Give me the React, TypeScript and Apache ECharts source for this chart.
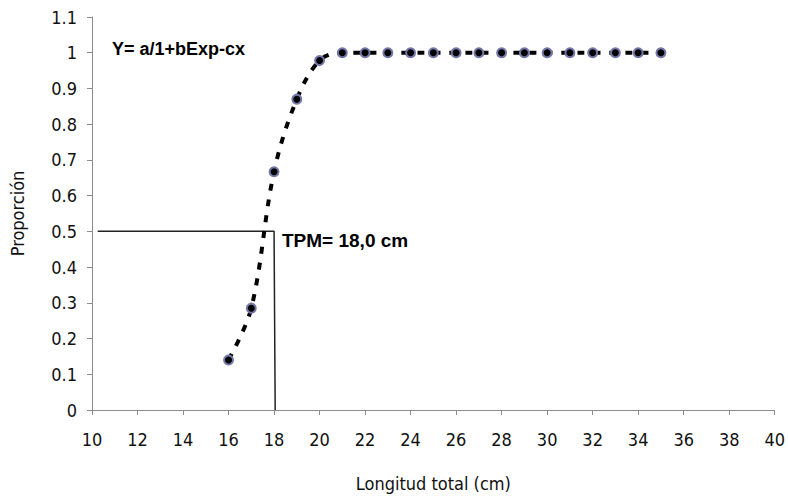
import React, { useEffect, useRef } from "react";
import * as echarts from "echarts";

const lengths = [16, 17, 18, 19, 20, 21, 22, 23, 24, 25, 26, 27, 28, 29, 30, 31, 32, 33, 34, 35];
const proportions = [0.14, 0.285, 0.667, 0.87, 0.978, 1, 1, 1, 1, 1, 1, 1, 1, 1, 1, 1, 1, 1, 1, 1];
const tpmLine = [[10.25, 0.5], [18, 0.5], [18.05, 0]];
const equationText = "Y= a/1+bExp-cx";
const tpmText = "TPM= 18,0 cm";
const xName = "Longitud total (cm)";
const yName = "Proporción";

const FONT = "'DejaVu Sans Condensed', 'Liberation Sans Narrow', 'Liberation Sans', Arial, sans-serif";
const BOLD_FONT = "'Liberation Sans', Arial, sans-serif";

export default function App() {
  const ref = useRef<HTMLDivElement>(null);
  useEffect(() => {
    if (!ref.current) return;
    const chart = echarts.init(ref.current, null, { renderer: "svg" });
    chart.setOption({
      animation: false,
      backgroundColor: "#ffffff",
      grid: { left: 91, right: 5, top: 17, bottom: 83 },
      xAxis: {
        type: "value",
        min: 10,
        max: 40,
        interval: 2,
        name: xName,
        nameLocation: "middle",
        nameGap: 64,
        nameTextStyle: { fontFamily: FONT, fontSize: 18, color: "#111" },
        axisLine: { show: true, onZero: false, lineStyle: { color: "#8c8c8c", width: 1 } },
        axisTick: { show: true, length: 5, lineStyle: { color: "#8c8c8c" } },
        axisLabel: { fontFamily: FONT, fontSize: 18, color: "#111", margin: 20 },
        splitLine: { show: false },
      },
      yAxis: {
        type: "value",
        min: 0,
        max: 1.1,
        interval: 0.1,
        name: yName,
        nameLocation: "middle",
        nameGap: 66,
        nameTextStyle: { fontFamily: FONT, fontSize: 18, color: "#111" },
        axisLine: { show: true, lineStyle: { color: "#8c8c8c", width: 1 } },
        axisTick: { show: true, length: 5, lineStyle: { color: "#8c8c8c" } },
        axisLabel: {
          fontFamily: FONT,
          fontSize: 18,
          color: "#111",
          margin: 15,
          formatter: (v: number) => String(+v.toFixed(1)),
        },
        splitLine: { show: false },
      },
      series: [
        {
          type: "line",
          data: tpmLine,
          symbol: "none",
          lineStyle: { color: "#222", width: 1.5 },
          z: 1,
        },
        {
          type: "line",
          data: lengths.map((x, i) => [x, proportions[i]]),
          smooth: 0.35,
          symbol: "circle",
          symbolSize: 9,
          itemStyle: { color: "#000", borderColor: "#7478a8", borderWidth: 2 },
          lineStyle: { color: "#000", width: 4, type: [7, 9] },
          z: 2,
        },
      ],
      graphic: [
        {
          type: "text",
          left: 112,
          top: 40,
          style: { text: equationText, font: `bold 18px ${BOLD_FONT}`, fill: "#000" },
        },
        {
          type: "text",
          left: 282,
          top: 231,
          style: { text: tpmText, font: `bold 19px ${BOLD_FONT}`, fill: "#000" },
        },
      ],
    });
    return () => chart.dispose();
  }, []);
  return <div ref={ref} style={{ width: 788, height: 497, position: "fixed", left: 0, top: 0 }} />;
}
